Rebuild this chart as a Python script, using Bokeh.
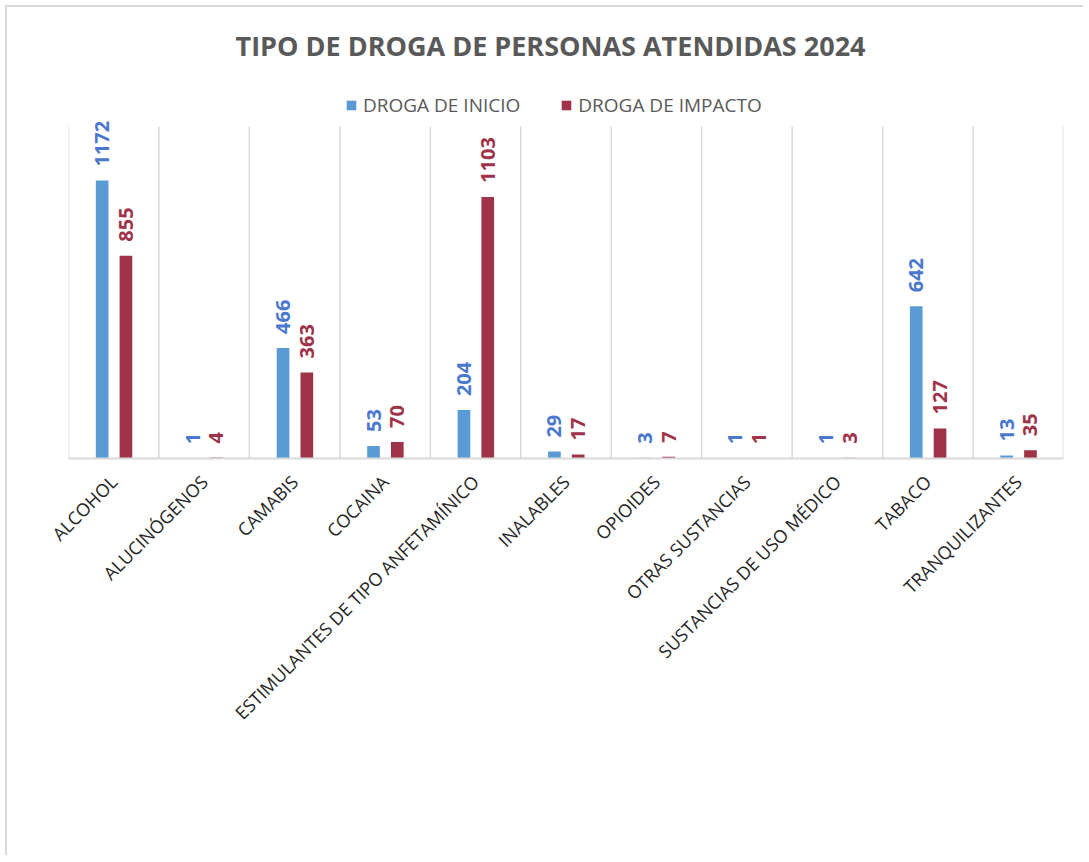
import math
from bokeh.plotting import figure
from bokeh.models import ColumnDataSource, FactorRange, Range1d, Legend, LegendItem
from bokeh.transform import dodge
from bokeh.core.properties import value
from bokeh.embed import file_html
from bokeh.resources import INLINE

categories = ["ALCOHOL", "ALUCINÓGENOS", "CAMABIS", "COCAINA",
              "ESTIMULANTES DE TIPO ANFETAMÍNICO", "INALABLES", "OPIOIDES",
              "OTRAS SUSTANCIAS", "SUSTANCIAS DE USO MÉDICO", "TABACO",
              "TRANQUILIZANTES"]
droga_inicio = [1172, 1, 466, 53, 204, 29, 3, 1, 1, 642, 13]
droga_impacto = [855, 4, 363, 70, 1103, 17, 7, 1, 3, 127, 35]
series_names = ["DROGA DE INICIO", "DROGA DE IMPACTO"]
title_text = "TIPO DE DROGA DE PERSONAS ATENDIDAS 2024"

BLUE = "#5B9BD5"
BLUE_TXT = "#4A78CC"
RED = "#9E3349"
GRID = "#D9D9D9"

GRID_TOP = 1400          # top of the category separator lines (data units)
Y_END = GRID_TOP * 388 / 332   # frame extends above the separators for legend

src = ColumnDataSource(dict(
    cat=categories,
    inicio=droga_inicio,
    impacto=droga_impacto,
    inicio_s=[str(v) for v in droga_inicio],
    impacto_s=[str(v) for v in droga_impacto],
    y0=[0] * len(categories),
    y1=[GRID_TOP] * len(categories),
))
last_src = ColumnDataSource(dict(cat=[categories[-1]], y0=[0], y1=[GRID_TOP]))

p = figure(width=1078, height=850, output_backend="svg", toolbar_location=None,
           x_range=FactorRange(factors=categories), y_range=Range1d(0, Y_END),
           min_border_left=61, min_border_right=22, min_border_bottom=399,
           min_border_top=63)
p.styles = {"margin-left": "5px", "margin-top": "5px",
            "border-left": "2px solid #D9D9D9", "border-top": "2px solid #D9D9D9"}

p.title.text = title_text
p.title.align = "left"
p.title.offset = 167
p.title.text_font = "Open Sans"
p.title.text_font_style = "bold"
p.title.text_font_size = "27px"
p.title.text_color = "#595959"
p.title.standoff = 14

p.outline_line_color = None
p.xgrid.grid_line_color = None
p.ygrid.grid_line_color = None
p.yaxis.visible = False

# category separators
p.segment(x0=dodge("cat", -0.5, range=p.x_range), y0="y0",
          x1=dodge("cat", -0.5, range=p.x_range), y1="y1",
          source=src, line_color=GRID, line_width=1.5)
p.segment(x0=dodge("cat", 0.5, range=p.x_range), y0="y0",
          x1=dodge("cat", 0.5, range=p.x_range), y1="y1",
          source=last_src, line_color=GRID, line_width=1.5)

r1 = p.vbar(x=dodge("cat", -0.128, range=p.x_range), top="inicio", width=0.14,
            source=src, fill_color=BLUE, line_color=None)
r2 = p.vbar(x=dodge("cat", 0.135, range=p.x_range), top="impacto", width=0.14,
            source=src, fill_color=RED, line_color=None)

p.text(x=dodge("cat", -0.128, range=p.x_range), y="inicio", text="inicio_s",
       source=src, angle=math.pi / 2, text_align="left", text_baseline="middle",
       y_offset=-14, text_font=value("Open Sans"), text_font_style="bold",
       text_font_size="20px", text_color=BLUE_TXT)
p.text(x=dodge("cat", 0.135, range=p.x_range), y="impacto", text="impacto_s",
       source=src, angle=math.pi / 2, text_align="left", text_baseline="middle",
       y_offset=-14, text_font=value("Open Sans"), text_font_style="bold",
       text_font_size="20px", text_color=RED)

xa = p.xaxis[0]
xa.axis_line_color = GRID
xa.axis_line_width = 2
xa.major_tick_line_color = None
xa.minor_tick_line_color = None
xa.major_label_orientation = math.pi / 4
xa.major_label_standoff = 14
xa.major_label_text_font = "Open Sans"
xa.major_label_text_font_size = "18px"
xa.major_label_text_color = "#262626"

legend = Legend(items=[LegendItem(label=series_names[0], renderers=[r1]),
                       LegendItem(label=series_names[1], renderers=[r2])],
                orientation="horizontal", location=(277, 340))
legend.border_line_color = None
legend.background_fill_alpha = 0
legend.glyph_width = 12
legend.glyph_height = 12
legend.label_text_font = "Open Sans"
legend.label_text_font_size = "19px"
legend.label_text_color = "#595959"
legend.spacing = 40
legend.margin = 0
legend.padding = 5
legend.label_standoff = 6
p.add_layout(legend, "center")

open("out.html", "w").write(file_html(p, INLINE))
